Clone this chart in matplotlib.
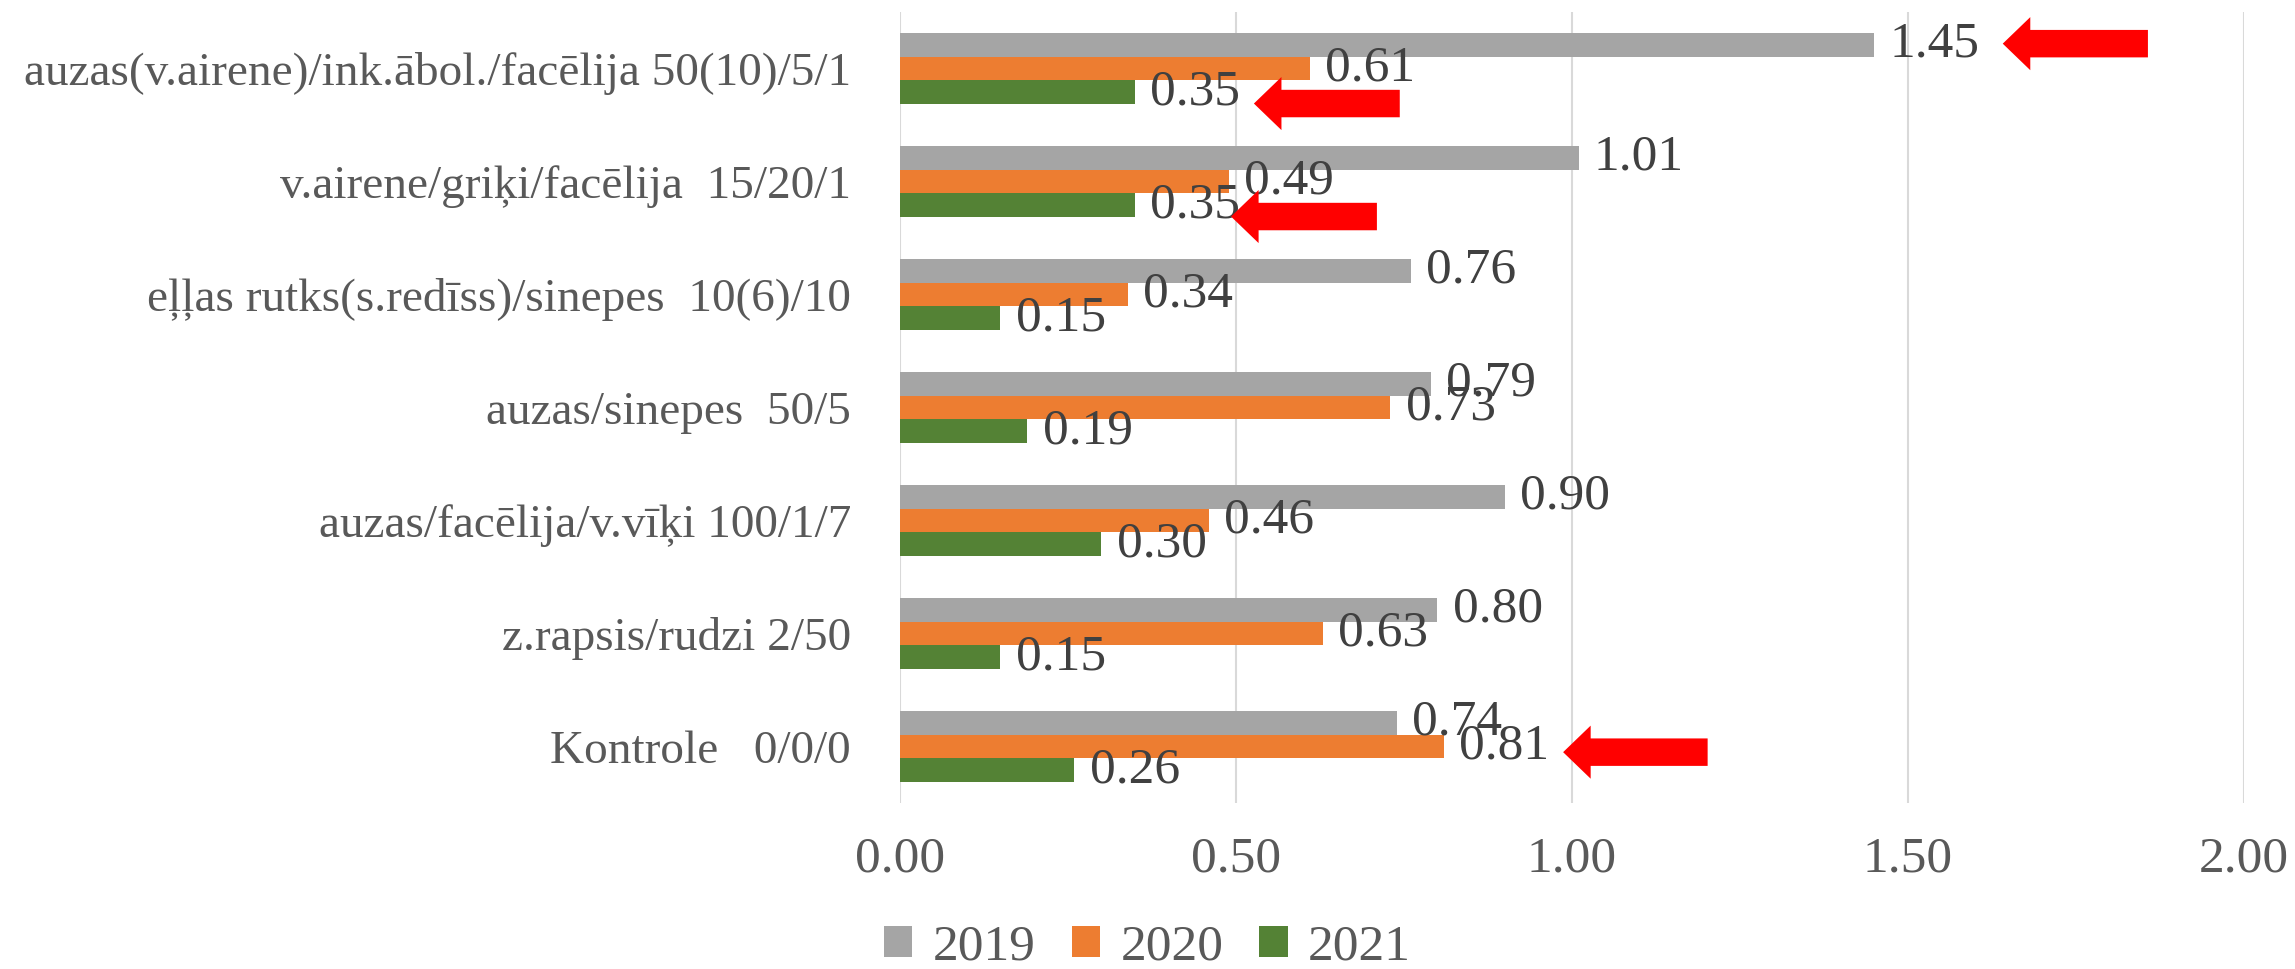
import numpy as np
import matplotlib
matplotlib.use("Agg")
import matplotlib.pyplot as plt
from matplotlib.patches import FancyArrow

plt.rcParams['font.family'] = ['Liberation Serif', 'DejaVu Serif']

# categories, top to bottom
categories = [
    "auzas(v.airene)/ink.ābol./facēlija 50(10)/5/1",
    "v.airene/griķi/facēlija  15/20/1",
    "eļļas rutks(s.redīss)/sinepes  10(6)/10",
    "auzas/sinepes  50/5",
    "auzas/facēlija/v.vīķi 100/1/7",
    "z.rapsis/rudzi 2/50",
    "Kontrole   0/0/0",
]
years = ["2019", "2020", "2021"]
vals_2019 = [1.45, 1.01, 0.76, 0.79, 0.90, 0.80, 0.74]
vals_2020 = [0.61, 0.49, 0.34, 0.73, 0.46, 0.63, 0.81]
vals_2021 = [0.35, 0.35, 0.15, 0.19, 0.30, 0.15, 0.26]
x_ticks = [0.0, 0.5, 1.0, 1.5, 2.0]

colors = ["#A5A5A5", "#ED7D31", "#548235"]

# red arrows: (category index, bar offset, tip x, tail x)
arrows = [
    (0, -0.22, 1.641, 1.857),
    (0, 0.31, 0.527, 0.744),
    (1, 0.31, 0.493, 0.710),
    (6, 0.05, 0.987, 1.202),
]

fig = plt.figure(figsize=(22.95, 9.69), dpi=100)
ax = fig.add_axes([0.392, 0.1713, 0.9778 - 0.392, 0.9876 - 0.1713])

y = np.arange(len(categories))
h = 0.212
for k, (vals, col, lab) in enumerate(zip([vals_2019, vals_2020, vals_2021], colors, years)):
    bars = ax.barh(y + (k - 1) * h, vals, height=h, color=col, label=lab, zorder=2)
    ax.bar_label(bars, fmt='%.2f', padding=11, fontsize=37, color='#404040')

for idx, off, tip, tail in arrows:
    ax.add_patch(FancyArrow(tail, idx + off, tip - tail, 0, width=0.243,
                            head_width=0.47, head_length=0.041,
                            length_includes_head=True, color='#FF0000',
                            lw=0, zorder=4, clip_on=False))

ax.set_xlim(0, 2.0)
ax.set_ylim(len(categories) - 0.5, -0.5)
ax.set_xticks(x_ticks)
ax.set_xticklabels([f"{t:.2f}" for t in x_ticks])
ax.set_yticks(y)
ax.set_yticklabels(categories)
ax.tick_params(axis='x', length=0, pad=24, labelsize=37, labelcolor='#595959')
ax.tick_params(axis='y', length=0, pad=35, labelsize=34, labelcolor='#595959')
ax.grid(axis='x', color='#D9D9D9', lw=1.5, zorder=0)
ax.set_axisbelow(True)
for s in ax.spines.values():
    s.set_visible(False)

fig.legend(loc='center', bbox_to_anchor=(0.5, 0.022), ncol=3, frameon=False,
           fontsize=37, handlelength=0.55, handleheight=0.55,
           handletextpad=0.4, columnspacing=0.7, labelcolor='#595959',
           borderpad=0)

fig.savefig("out.png", dpi=100)
